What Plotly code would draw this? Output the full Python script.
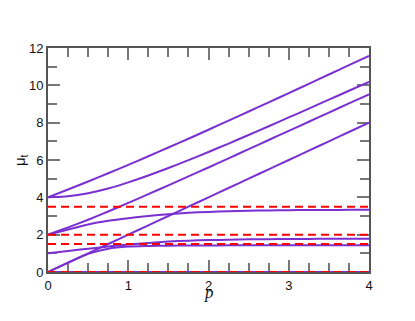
import plotly.graph_objects as go

# sample positions along p
p = [0, 0.25, 0.5, 0.75, 1, 1.25, 1.5, 1.75, 2, 2.25, 2.5, 2.75, 3, 3.25, 3.5, 3.75, 4]

# purple curves mu_t(p)
mu_a = [4, 4.42, 4.85, 5.29, 5.74, 6.2, 6.67, 7.14, 7.62, 8.11, 8.6, 9.09, 9.58, 10.08, 10.58, 11.08, 11.58]
mu_b = [4, 4.06, 4.22, 4.47, 4.8, 5.17, 5.57, 5.99, 6.43, 6.88, 7.34, 7.81, 8.28, 8.75, 9.23, 9.71, 10.19]
mu_c = [2, 2.39, 2.8, 3.24, 3.7, 4.17, 4.64, 5.12, 5.6, 6.09, 6.58, 7.07, 7.56, 8.05, 8.54, 9.03, 9.52]
mu_d = [0, 0.5, 1, 1.5, 2, 2.5, 3, 3.5, 4, 4.5, 5, 5.5, 6, 6.5, 7, 7.5, 8]
mu_e = [2, 2.28, 2.55, 2.74, 2.88, 3.0, 3.1, 3.17, 3.22, 3.25, 3.28, 3.3, 3.31, 3.32, 3.32, 3.33, 3.33]
mu_f = [1, 1.13, 1.25, 1.36, 1.47, 1.56, 1.63, 1.68, 1.71, 1.73, 1.75, 1.76, 1.77, 1.77, 1.78, 1.78, 1.78]
mu_g = [0, 0.5, 0.97, 1.25, 1.36, 1.39, 1.41, 1.42, 1.42, 1.43, 1.43, 1.43, 1.43, 1.43, 1.43, 1.43, 1.43]
mu_0 = [0] * len(p)

# red dashed reference levels
levels = [3.5, 2, 1.5, 0]

purple = "#7a2fd1"
red = "#ff0000"

fig = go.Figure()
for ys in [mu_a, mu_b, mu_c, mu_d, mu_e, mu_f, mu_g, mu_0]:
    fig.add_trace(go.Scatter(x=p, y=ys, mode="lines",
                             line=dict(color=purple, width=2, shape="spline", smoothing=0.5),
                             showlegend=False, hoverinfo="skip"))
for lv in levels:
    fig.add_trace(go.Scatter(x=[p[0], p[-1]], y=[lv, lv], mode="lines",
                             line=dict(color=red, width=2, dash="8px,5px"),
                             showlegend=False, hoverinfo="skip"))

axis_common = dict(
    showgrid=False, zeroline=False, showline=True, linecolor="#555555", linewidth=2,
    mirror="ticks", ticks="inside", ticklen=12, tickcolor="#777777", tickwidth=1.5,
    layer="below traces", automargin=False,
    tickfont=dict(family="Liberation Sans, Arial, sans-serif", size=13, color="#111111"),
)

fig.update_xaxes(range=[0, 4], dtick=1, tick0=0,
                 minor=dict(dtick=0.25, ticks="inside", ticklen=9, tickcolor="#777777", tickwidth=1.5),
                 **axis_common)
fig.update_yaxes(range=[0, 12], dtick=2, tick0=0,
                 minor=dict(dtick=1, ticks="inside", ticklen=9, tickcolor="#777777", tickwidth=1.5),
                 **axis_common)

# axis titles
fig.add_annotation(text="<i>p</i>", xref="paper", yref="paper", x=0.5, y=-0.09,
                   xanchor="center", yanchor="middle", showarrow=False,
                   font=dict(family="Liberation Serif, Times New Roman, serif", size=17, color="#111111"))
fig.add_annotation(text="μ<sub>t</sub>", xref="paper", yref="paper", x=-0.087, y=0.5,
                   xanchor="center", yanchor="middle", textangle=-90, showarrow=False,
                   font=dict(family="Liberation Sans, Arial, sans-serif", size=15, color="#111111"))

fig.update_layout(width=415, height=321, margin=dict(l=40, r=54, t=40, b=57),
                  plot_bgcolor="white", paper_bgcolor="white")

fig.write_html("out.html")
